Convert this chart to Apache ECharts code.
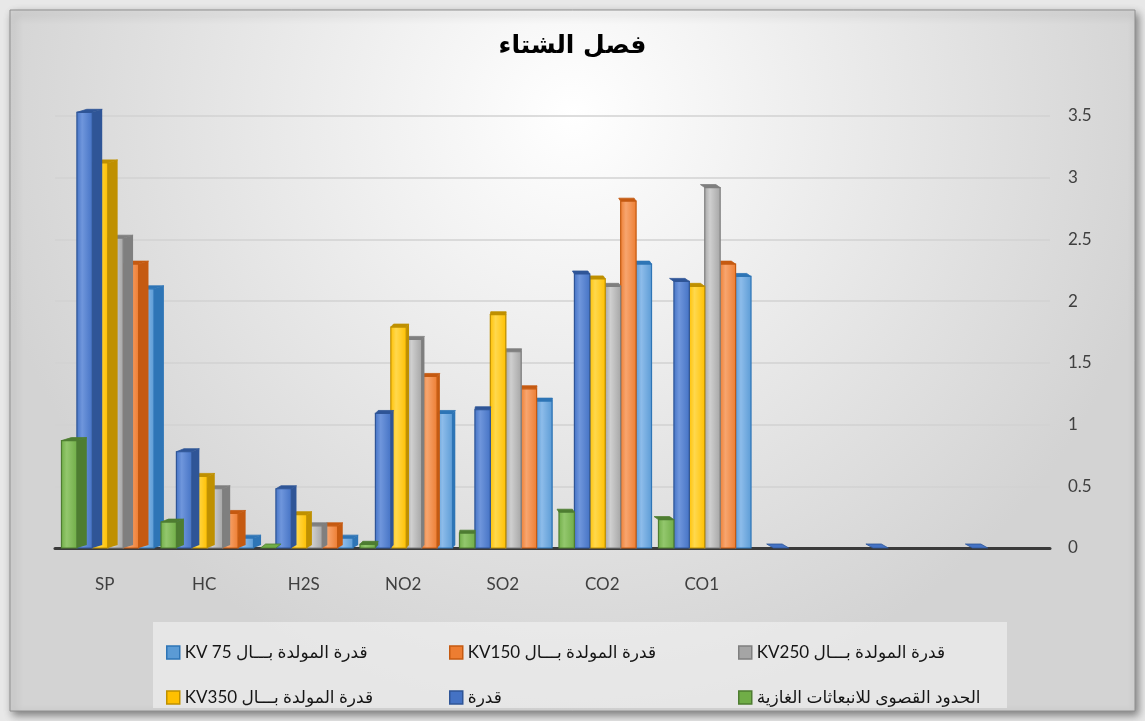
<!DOCTYPE html>
<html>
<head>
<meta charset="utf-8">
<script src="https://cdn.jsdelivr.net/npm/echarts@6/dist/echarts.min.js"></script>
<style>
  html, body { margin: 0; padding: 0; background: #e8e8e8; }
  #chart { width: 1145px; height: 721px; }
</style>
</head>
<body>
<div id="chart" dir="rtl"></div>
<script>
// categories (left to right as drawn), the last three are empty
var categories = ['SP', 'HC', 'H2S', 'NO2', 'SO2', 'CO2', 'CO1', '', '', ''];

// series values
var kv75   = [2.10, 0.08, 0.08, 1.09, 1.19, 2.30, 2.20, null, null, null];
var kv150  = [2.30, 0.28, 0.18, 1.39, 1.29, 2.81, 2.30, null, null, null];
var kv250  = [2.51, 0.48, 0.18, 1.69, 1.59, 2.12, 2.92, null, null, null];
var kv350  = [3.12, 0.58, 0.27, 1.79, 1.89, 2.18, 2.12, null, null, null];
var qudra  = [3.53, 0.78, 0.48, 1.09, 1.12, 2.22, 2.16, 0, 0, 0];
var limits = [0.87, 0.21, 0, 0.03, 0.12, 0.29, 0.23, null, null, null];

var names = [
  'قدرة المولدة بـــال KV 75',
  'قدرة المولدة بـــال KV150',
  'قدرة المولدة بـــال KV250',
  'قدرة المولدة بـــال KV350',
  'قدرة',
  'الحدود القصوى للانبعاثات الغازية'
];
var values = [kv75, kv150, kv250, kv350, qudra, limits];

// front / light / side colours for each series
var colors = ['#5B9BD5', '#ED7D31', '#A5A5A5', '#FFC000', '#4472C4', '#70AD47'];
var lights = ['#8dbcea', '#f7a56f', '#cfcfcf', '#ffd84d', '#6f96dc', '#93c76d'];
var darks  = ['#2e75b6', '#c55a11', '#7f7f7f', '#bf9000', '#2f5597', '#4e7d31'];

var myChart = echarts.init(document.getElementById('chart'));

function barRenderer(i) {
  var pos = 5 - i; // green is drawn leftmost in each group
  return function (params, api) {
    var v = api.value(1);
    if (v == null || isNaN(v)) return;
    var base = api.coord([api.value(0), 0]);
    var top = api.coord([api.value(0), v]);
    var band = api.size([1, 0])[0];
    var bw = band * 0.155;
    var x0 = base[0] - 3 * bw + pos * bw + 3;
    var d = (520 - base[0]) / 42;
    if (d > 10) d = 10;
    if (d < -7) d = -7;
    var dy = v > 0 ? 3 : 4;
    var ty = top[1], by = base[1];
    var kids = [];
    if (d > 0 && by - ty > 0) {
      kids.push({
        type: 'polygon',
        shape: { points: [[x0 + bw, ty], [x0 + bw + d, ty - dy], [x0 + bw + d, by - dy], [x0 + bw, by]] },
        style: { fill: darks[i] }
      });
    }
    kids.push({
      type: 'polygon',
      shape: { points: [[x0, ty], [x0 + d, ty - dy], [x0 + bw + d, ty - dy], [x0 + bw, ty]] },
      style: { fill: v > 0 ? darks[i] : colors[i], stroke: darks[i], lineWidth: 0.8 }
    });
    if (by - ty > 0) {
      kids.push({
        type: 'rect',
        shape: { x: x0, y: ty, width: bw, height: by - ty },
        style: {
          fill: new echarts.graphic.LinearGradient(0, 0, 1, 0, [
            { offset: 0, color: colors[i] },
            { offset: 0.35, color: lights[i] },
            { offset: 1, color: colors[i] }
          ]),
          stroke: darks[i],
          lineWidth: 1.2
        }
      });
    }
    return { type: 'group', children: kids };
  };
}

var series = [];
for (var i = 0; i < 6; i++) {
  var d = [];
  for (var k = 0; k < categories.length; k++) d.push([k, values[i][k]]);
  series.push({
    name: names[i],
    type: 'custom',
    renderItem: barRenderer(i),
    itemStyle: { color: colors[i], borderColor: darks[i] },
    encode: { x: 0, y: 1 },
    clip: false,
    z: 2 + i,
    data: d
  });
}

// legend slots: 3 columns, 2 rows
var legendPos = [
  [161, 639], [444, 639], [733, 639],
  [161, 684], [444, 684], [733, 684]
];
var legends = [];
for (var j = 0; j < 6; j++) {
  legends.push({
    data: [names[j]],
    left: legendPos[j][0],
    top: legendPos[j][1],
    icon: 'rect',
    itemWidth: 13,
    itemHeight: 13,
    itemGap: 6,
    itemStyle: { borderColor: darks[j], borderWidth: 1.5 },
    textStyle: { fontSize: 17, color: '#151515', fontFamily: 'Lato, "DejaVu Sans", sans-serif' }
  });
}

var option = {
  backgroundColor: '#e8e8e8',
  animation: false,
  title: {
    text: 'فصل الشتاء',
    left: 'center',
    top: 29,
    textStyle: { fontSize: 25, fontWeight: 'bold', color: '#000', fontFamily: '"DejaVu Sans", sans-serif' }
  },
  graphic: [
    {
      type: 'rect',
      z: -10,
      shape: { x: 10, y: 10, width: 1125, height: 701 },
      style: {
        fill: new echarts.graphic.RadialGradient(0.5, 0.15, 0.85, [
          { offset: 0, color: '#ffffff' },
          { offset: 1, color: '#d3d3d3' }
        ]),
        stroke: '#8f8f8f',
        lineWidth: 1,
        shadowBlur: 8,
        shadowColor: 'rgba(0,0,0,0.45)',
        shadowOffsetX: 3,
        shadowOffsetY: 4
      }
    },
    {
      type: 'rect',
      z: -5,
      shape: { x: 153, y: 622, width: 854, height: 86 },
      style: { fill: 'rgba(245,245,245,0.55)' }
    }
  ],
  legend: legends,
  grid: { left: 55, right: 95, top: 116, bottom: 173 },
  xAxis: {
    type: 'category',
    data: categories,
    axisLine: { lineStyle: { color: '#3a3a3a', width: 3 } },
    axisTick: { show: false },
    axisLabel: { color: '#404040', fontSize: 17, margin: 28, fontFamily: 'Lato, sans-serif' },
    splitLine: { show: false }
  },
  yAxis: {
    type: 'value',
    position: 'right',
    min: 0,
    max: 3.5,
    interval: 0.5,
    axisLine: { show: false },
    axisTick: { show: false },
    axisLabel: { color: '#404040', fontSize: 17, margin: 18, fontFamily: 'Lato, sans-serif' },
    splitLine: { lineStyle: { color: '#d2d2d2', width: 1.5 } }
  },
  series: series
};
myChart.setOption(option);
</script>
</body>
</html>
